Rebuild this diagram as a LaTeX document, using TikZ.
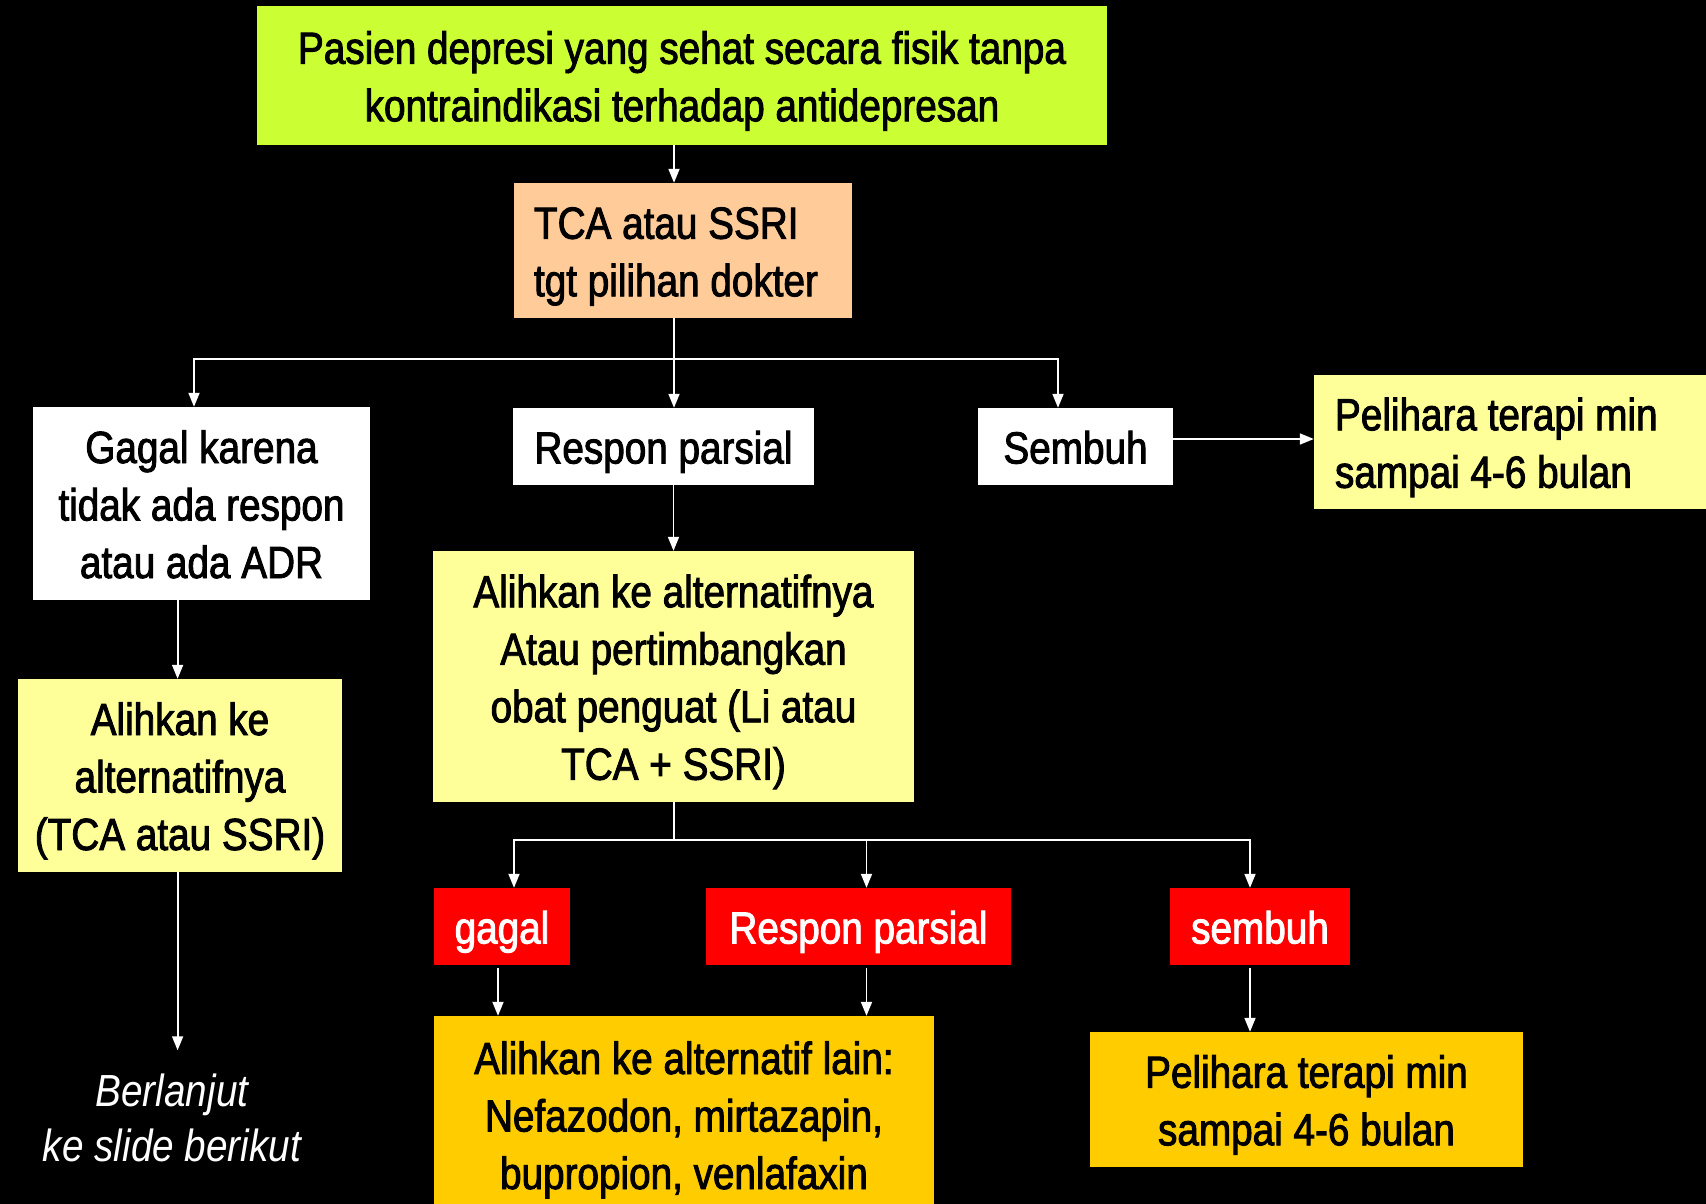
\documentclass[tikz,border=0pt]{standalone}
\usepackage{fontspec}
\usetikzlibrary{arrows.meta}
\newfontfamily\mf{Liberation Sans}[FakeStretch=0.86, FakeBold=2]
\newfontfamily\itf{Liberation Sans}[FakeStretch=0.86]
\newcommand\mytopstrut{\rule{0pt}{44pt}}
\newcommand\mybotstrut{\rule[-10pt]{0pt}{10pt}}
\definecolor{lime}{HTML}{CCFF33}
\definecolor{peach}{HTML}{FFCC99}
\definecolor{paley}{HTML}{FFFF99}
\definecolor{gold}{HTML}{FFCC00}
\definecolor{redbox}{HTML}{FF0000}
\tikzset{
  box/.style={rectangle, inner sep=0pt, align=center, text=black,
    font={\fontsize{45}{57.5}\selectfont\mf}},
  redb/.style={box, fill=redbox, text=white, minimum height=77pt},
  ln/.style={draw=white, line width=1.8pt},
  arr/.style={ln, -{Triangle[length=14pt, width=11pt]}}
}
\begin{document}
\begin{tikzpicture}[x=1pt, y=-1pt]
\fill[black] (0,0) rectangle (1706,1204);
\useasboundingbox (0,0) rectangle (1706,1204);

\node[box, fill=lime, minimum width=850pt, minimum height=139pt] (top) at (682,75.5)
  {\mytopstrut Pasien depresi yang sehat secara fisik tanpa\\kontraindikasi terhadap antidepresan\mybotstrut};
\node[box, fill=peach, minimum width=338pt, minimum height=135pt, align=flush left, text width=298pt] (tca) at (683,250.5)
  {\mytopstrut TCA atau SSRI\\tgt pilihan dokter\mybotstrut};

\node[box, fill=white, minimum width=337pt, minimum height=193pt] (gagal) at (201.5,503.5)
  {\mytopstrut Gagal karena\\tidak ada respon\\atau ada ADR\mybotstrut};
\node[box, fill=white, minimum width=301pt, minimum height=77pt] (respon) at (663.5,446.5)
  {\mytopstrut Respon parsial\mybotstrut};
\node[box, fill=white, minimum width=195pt, minimum height=77pt] (sembuh) at (1075.5,446.5)
  {\mytopstrut Sembuh\mybotstrut};
\node[box, fill=paley, minimum width=392pt, minimum height=134pt, align=flush left, text width=350pt] (pel1) at (1510,442)
  {\mytopstrut Pelihara terapi min\\sampai 4-6 bulan\mybotstrut};

\node[box, fill=paley, minimum width=324pt, minimum height=193pt] (alih1) at (180,775.5)
  {\mytopstrut Alihkan ke\\alternatifnya\\(TCA atau SSRI)\mybotstrut};
\node[box, fill=paley, minimum width=481pt, minimum height=251pt] (alih2) at (673.5,676.5)
  {\mytopstrut Alihkan ke alternatifnya\\Atau pertimbangkan\\obat penguat (Li atau\\TCA + SSRI)\mybotstrut};

\node[redb, minimum width=136pt] (gagalr) at (502,926.5) {\mytopstrut gagal\mybotstrut};
\node[redb, minimum width=305pt] (responr) at (858.5,926.5) {\mytopstrut Respon parsial\mybotstrut};
\node[redb, minimum width=180pt] (sembuhr) at (1260,926.5) {\mytopstrut sembuh\mybotstrut};

\node[box, fill=gold, minimum width=500pt, minimum height=197pt] (alih3) at (684,1114.5)
  {\mytopstrut Alihkan ke alternatif lain:\\Nefazodon, mirtazapin,\\bupropion, venlafaxin\mybotstrut};
\node[box, fill=gold, minimum width=433pt, minimum height=135pt] (pel2) at (1306.5,1099.5)
  {\mytopstrut Pelihara terapi min\\sampai 4-6 bulan\mybotstrut};

\node[align=center, text=white, inner sep=0pt, font={\fontsize{45}{55}\selectfont\itf\itshape}] (berl) at (172,1117.5)
  {Berlanjut\\ke slide berikut};

% connectors
\coordinate (sp) at (674,0);
\draw[arr] (top.south -| sp) -- (tca.north -| sp);
\coordinate (b1) at (674,359);
\draw[ln] (tca.south -| b1) -- (b1);
\draw[arr] (b1) -| ([xshift=-7.5pt]gagal.north);
\draw[arr] (b1) -- (respon.north -| b1);
\draw[arr] (b1) -| ([xshift=-17.5pt]sembuh.north);
\draw[arr] ([yshift=7.5pt]sembuh.east) -- ([yshift=7.5pt]sembuh.east -| pel1.west);

\draw[arr] ([xshift=-2.4pt]gagal.south -| alih1.north) -- ([xshift=-2.4pt]alih1.north);
\draw[arr] ([xshift=-2.4pt]alih1.south) -- ([xshift=-2.4pt,yshift=23pt]berl.north -| alih1.south);

\draw[arr] (respon.south -| alih2.north) -- (alih2.north);
\coordinate (b2) at (674,840);
\draw[ln] (alih2.south -| b2) -- (b2);
\draw[arr] (b2) -| ([xshift=12pt]gagalr.north);
\draw[arr] (b2) -| ([xshift=8pt]responr.north);
\draw[arr] (b2) -| ([xshift=-10pt]sembuhr.north);

\draw[arr] ([xshift=-4pt,yshift=-3pt]gagalr.south) -- ([xshift=-4pt]gagalr.south |- alih3.north);
\draw[arr] ([xshift=8pt,yshift=-3pt]responr.south) -- ([xshift=8pt]responr.south |- alih3.north);
\draw[arr] ([xshift=-10pt,yshift=-3pt]sembuhr.south) -- ([xshift=-10pt]sembuhr.south |- pel2.north);
\end{tikzpicture}
\end{document}
